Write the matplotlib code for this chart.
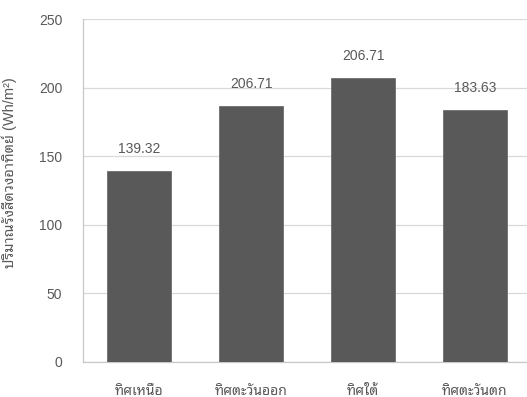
import matplotlib
matplotlib.use('Agg')
import matplotlib.pyplot as plt

directions = ["ทิศเหนือ", "ทิศตะวันออก", "ทิศใต้", "ทิศตะวันตก"]
# bar heights as drawn (the east bar carries the label 206.71 in the source)
heights = [139.32, 186.5, 206.71, 183.63]
value_labels = ["139.32", "206.71", "206.71", "183.63"]
y_ticks = [0, 50, 100, 150, 200, 250]

fonts = ['Liberation Sans', 'Noto Sans Thai Looped', 'Noto Sans Thai', 'DejaVu Sans']
plt.rcParams['font.family'] = fonts

fig = plt.figure(figsize=(5.27, 3.97), dpi=100)
ax = fig.add_axes([0.1575, 0.0889, 0.8425, 0.8632])

x = range(len(directions))
bars = ax.bar(x, heights, width=0.571, color='#595959', edgecolor='#6e6e6e',
              linewidth=0.6, zorder=3)

for b, lab in zip(bars, value_labels):
    ax.annotate(lab, (b.get_x() + b.get_width() / 2, b.get_height()),
                xytext=(0, 16), textcoords='offset points',
                ha='center', va='center', fontsize=10, color='#595959')

ax.set_xlim(-0.5, 3.464)
ax.set_ylim(0, 250)
ax.set_yticks(y_ticks)
ax.set_xticks(list(x))
ax.set_xticklabels(directions)
ax.tick_params(axis='both', length=0, labelsize=10, colors='#595959')
ax.tick_params(axis='y', pad=15)
ax.tick_params(axis='x', pad=16)

ax.grid(axis='y', color='#d9d9d9', linewidth=0.9, zorder=0)
for s in ['top', 'right']:
    ax.spines[s].set_visible(False)
ax.spines['left'].set_color('#c8c8c8')
ax.spines['bottom'].set_color('#c8c8c8')
ax.spines['left'].set_linewidth(0.9)
ax.spines['bottom'].set_linewidth(0.9)

ax.set_ylabel("ปริมาณรังสีดวงอาทิตย์ (Wh/m²)", fontsize=10.5, color='#595959')
ax.yaxis.set_label_coords(-0.149, 0.553)

fig.savefig('out.png')
